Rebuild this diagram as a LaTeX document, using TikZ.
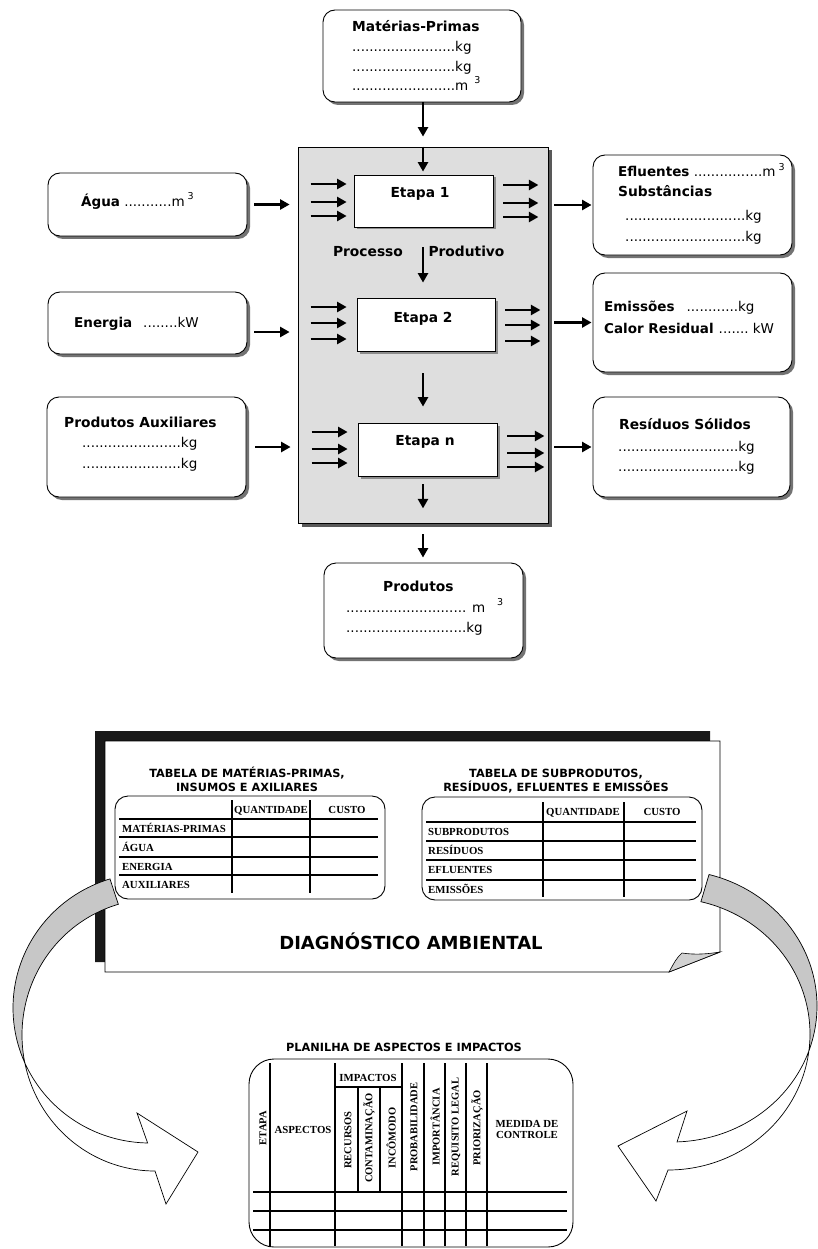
\documentclass[tikz,border=0pt]{standalone}
\usepackage{fontspec}
\setmainfont{DejaVu Sans}
\newfontfamily\tnr{Liberation Serif}
\usetikzlibrary{arrows.meta,shadows,calc}
\newcount\dotcnt
\newcommand\dotrun[1]{\dotcnt=0 \loop\ifnum\dotcnt<#1 .\advance\dotcnt by 1 \repeat}
\newcommand\cubo[1]{\hspace{#1}\raisebox{6.5pt}{\fontsize{9.5}{10}\selectfont 3}}
\tikzset{
  arr/.style={line width=2.7pt,-{Triangle[length=9.5pt,width=10pt]}},
  rbox/.style={draw,line width=0.9pt,fill=white,rounded corners=12pt,inner sep=0pt,
    drop shadow={shadow xshift=3pt,shadow yshift=-3pt,fill=black!55,opacity=1}},
  ebox/.style={draw,line width=0.8pt,fill=white,inner sep=0pt,
    drop shadow={shadow xshift=2.5pt,shadow yshift=-2.5pt,fill=black!45,opacity=1}},
  txt/.style={inner sep=0pt,anchor=base west,font=\fontsize{13.5}{16}\selectfont},
  btxt/.style={inner sep=0pt,anchor=base west,font=\fontsize{13.8}{16}\selectfont\bfseries},
  ctxt/.style={inner sep=0pt,anchor=base,font=\fontsize{13.8}{16}\selectfont\bfseries},
  tbox/.style={draw,line width=0.9pt,rounded corners=13pt,inner sep=0pt},
  tl/.style={line width=2.3pt},
  tt/.style={inner sep=0pt,anchor=base west,font=\tnr\fontsize{10.8}{12}\selectfont\bfseries},
  tth/.style={inner sep=0pt,anchor=base,font=\tnr\fontsize{10.8}{12}\selectfont\bfseries},
  ttr/.style={inner sep=0pt,anchor=center,rotate=90,font=\tnr\fontsize{10.5}{12}\selectfont\bfseries},
  ttitle/.style={inner sep=0pt,anchor=base,font=\fontsize{11.3}{13}\selectfont\bfseries},
  band/.style={draw,line width=0.7pt},
}
\begin{document}
\begin{tikzpicture}[x=1pt,y=-1pt]
\fill[white] (0,0) rectangle (818,1249);
\useasboundingbox (0,0) rectangle (818,1249);
\coordinate (axis) at (423,0);

% ---------- process box ----------
\node[draw,line width=0.8pt,fill=black!13,inner sep=0pt,minimum width=250pt,minimum height=376pt,
  drop shadow={shadow xshift=3.5pt,shadow yshift=-3.5pt,fill=black!65,opacity=1}] (proc) at (423,335) {};

% ---------- outer boxes ----------
\node[rbox,minimum width=198pt,minimum height=92pt] (mp) at (422,56) {};
\node[rbox,minimum width=199pt,minimum height=63pt] (agua) at (147.5,204.5) {};
\node[rbox,minimum width=199pt,minimum height=62pt] (energia) at (147.5,323) {};
\node[rbox,minimum width=199pt,minimum height=100pt] (aux) at (146.5,447) {};
\node[rbox,minimum width=199pt,minimum height=100pt] (eflu) at (692.5,205) {};
\node[rbox,minimum width=199pt,minimum height=99pt] (emis) at (692.5,322.5) {};
\node[rbox,minimum width=197pt,minimum height=100pt] (resid) at (691.5,447) {};
\node[rbox,minimum width=199pt,minimum height=95pt] (prod) at (423.5,610.5) {};

% ---------- stage boxes ----------
\node[ebox,minimum width=139pt,minimum height=52pt] (e1) at (423.5,201) {};
\node[ebox,minimum width=138pt,minimum height=53pt] (e2) at (426,324.5) {};
\node[ebox,minimum width=139pt,minimum height=53pt] (en) at (427.5,449.5) {};

% ---------- texts ----------
\node[btxt] (mpT) at (352,32) {Matérias-Primas};
\node[txt] (mpA) at (352,52) {\dotrun{24}kg};
\node[txt] (mpB) at (352,71.5) {\dotrun{24}kg};
\node[txt] (mpC) at (352,90.5) {\dotrun{24}m\cubo{6pt}};
\node[txt] (aguaT) at (81,206.5) {\textbf{Água} \dotrun{11}m\cubo{3pt}};
\node[txt] (energT) at (74,327) {\textbf{Energia}\hspace{11pt}\dotrun{8}kW};
\node[btxt] (auxT) at (64,427) {Produtos Auxiliares};
\node[txt] (auxA) at (82,447) {\dotrun{23}kg};
\node[txt] (auxB) at (82,468.5) {\dotrun{23}kg};
\node[txt] (efT) at (618,176.7) {\textbf{Efluentes} \dotrun{16}m\cubo{3pt}};
\node[btxt] (subT) at (618,196.7) {Substâncias};
\node[txt] (subA) at (625,221) {\dotrun{28}kg};
\node[txt] (subB) at (625,241) {\dotrun{28}kg};
\node[txt] (emT) at (604,311.7) {\textbf{Emissões}\hspace{12pt}\dotrun{12}kg};
\node[txt] (caT) at (604,333.3) {\textbf{Calor Residual}\hspace{5pt}\dotrun{7}\hspace{4pt}kW};
\node[btxt] (reT) at (619,429.3) {Resíduos Sólidos};
\node[txt] (reA) at (618,451) {\dotrun{28}kg};
\node[txt] (reB) at (618,471) {\dotrun{28}kg};
\node[btxt] (prT) at (383,591.7) {Produtos};
\node[txt] (prA) at (346,612.3) {\dotrun{28} m\cubo{12pt}};
\node[txt] (prB) at (346,632.7) {\dotrun{28}kg};

\node[ctxt] (e1T) at (420,198) {Etapa 1};
\node[ctxt] (e2T) at (423,322) {Etapa 2};
\node[ctxt] (enTT) at (425,445) {Etapa n};
\node[ctxt] (procT) at (368,256) {Processo};
\node[ctxt] (prodT) at (466.5,256) {Produtivo};

% ---------- connectors ----------
\draw[arr,shorten >=10pt] (axis |- mp.south) -- (axis |- proc.north);
\draw[arr,shorten >=3pt] (axis |- proc.north) -- (axis |- e1.north);
\draw[arr,shorten <=20pt,shorten >=15pt] (axis |- e1.south) -- (axis |- e2.north);
\draw[arr,shorten <=22pt,shorten >=16pt] (axis |- e2.south) -- (axis |- en.north);
\draw[arr,shorten <=8pt,shorten >=15pt] (axis |- en.south) -- (axis |- proc.south);
\draw[arr,shorten <=11pt,shorten >=5pt] (axis |- proc.south) -- (axis |- prod.north);

\coordinate (enA) at ($(energia.east)+(0,9)$);
\draw[arr,shorten <=7pt,shorten >=8pt] (agua.east) -- (agua.east -| proc.west);
\draw[arr,shorten <=7pt,shorten >=8pt] (enA) -- (enA -| proc.west);
\draw[arr,shorten <=9pt,shorten >=7pt] (aux.east) -- (aux.east -| proc.west);
\draw[arr,shorten <=6pt,shorten >=1pt] (proc.east |- eflu.west) -- (eflu.west);
\draw[arr,shorten <=6pt,shorten >=1pt] (proc.east |- emis.west) -- (emis.west);
\draw[arr,shorten <=6pt,shorten >=1pt] (proc.east |- resid.west) -- (resid.west);

\foreach \dy in {-17,1,15} \draw[arr] ([shift={(-43,\dy)}]e1.west) -- ++(36,0);
\foreach \dy in {-16,2,16} \draw[arr] ([shift={(10,\dy)}]e1.east) -- ++(35,0);
\foreach \dy in {-17.5,-1.5,14.5} \draw[arr] ([shift={(-46,\dy)}]e2.west) -- ++(36,0);
\foreach \dy in {-14.5,0.5,16.5} \draw[arr] ([shift={(10,\dy)}]e2.east) -- ++(35,0);
\foreach \dy in {-17.5,-0.5,13.5} \draw[arr] ([shift={(-46,\dy)}]en.west) -- ++(36,0);
\foreach \dy in {-13.5,3.5,17.5} \draw[arr] ([shift={(10,\dy)}]en.east) -- ++(37,0);

% ---------- diagnostic page ----------
\fill[black!90] (95,731) -- (710,731) -- (710,741) -- (105,741) -- (105,962) -- (95,962) -- cycle;
\draw[fill=white,line width=0.8pt] (105,741) -- (720,741) -- (720,952) -- (669,972) -- (105,972) -- cycle;
\draw[fill=black!18,line width=0.6pt] (669,972) .. controls (674,963) and (677,957) .. (682,953)
  .. controls (695,955) and (708,954) .. (720,952) -- cycle;

\node[ttitle] (t1a) at (247,777) {TABELA DE MATÉRIAS-PRIMAS,};
\node[ttitle] (t1b) at (247,791) {INSUMOS E AXILIARES};
\node[ttitle] (t2a) at (556,777) {TABELA DE SUBPRODUTOS,};
\node[ttitle] (t2b) at (556,791) {RESÍDUOS, EFLUENTES E EMISSÕES};

\node[tbox,minimum width=270pt,minimum height=103pt] (tab1) at (250,847.5) {};
\draw[tl] (232,800) -- (232,893) (310,800) -- (310,893);
\foreach \yy in {819,837,857,875} \draw[tl] (119,\yy) -- (378,\yy);
\node[tth] (q1) at (271,813.5) {QUANTIDADE};
\node[tth] (c1) at (347,813.5) {CUSTO};
\node[tt] (r11) at (122,832.5) {MATÉRIAS-PRIMAS};
\node[tt] (r12) at (122,851.5) {ÁGUA};
\node[tt] (r13) at (122,870.5) {ENERGIA};
\node[tt] (r14) at (122,888.5) {AUXILIARES};

\node[tbox,minimum width=280pt,minimum height=103pt] (tab2) at (562,848.5) {};
\draw[tl] (543,802) -- (543,897) (624,802) -- (624,897);
\foreach \yy in {822,841,860,880} \draw[tl] (426,\yy) -- (696,\yy);
\node[tth] (q2) at (583,815.5) {QUANTIDADE};
\node[tth] (c2) at (662,815.5) {CUSTO};
\node[tt] (r21) at (428,835.5) {SUBPRODUTOS};
\node[tt] (r22) at (428,854.5) {RESÍDUOS};
\node[tt] (r23) at (428,873.5) {EFLUENTES};
\node[tt] (r24) at (428,893) {EMISSÕES};

\node[inner sep=0pt,anchor=base,font=\fontsize{18}{20}\selectfont\bfseries] (diag) at (411,949.5) {DIAGNÓSTICO AMBIENTAL};

% ---------- planilha ----------
\node[ttitle] (planT) at (404,1051) {PLANILHA DE ASPECTOS E IMPACTOS};
\node[tbox,rounded corners=25pt,minimum width=324pt,minimum height=188pt] (plan) at (411,1153) {};
\foreach \xx in {270,335,402,424,445,466,487} \draw[tl] (\xx,1063) -- (\xx,1246);
\draw[tl] (358,1087) -- (358,1192) (380,1087) -- (380,1192);
\draw[tl] (335,1087) -- (402,1087);
\foreach \yy in {1192,1211,1230} \draw[tl] (253,\yy) -- (567,\yy);
\node[tth] (imp) at (368,1081) {IMPACTOS};
\node[tth] (asp) at (303,1133) {ASPECTOS};
\node[tth] (med1) at (527,1127) {MEDIDA DE};
\node[tth] (med2) at (527,1138.5) {CONTROLE};
\node[ttr] (r1) at (263,1128) {ETAPA};
\node[ttr] (r2) at (348,1140) {RECURSOS};
\node[ttr] (r3) at (369,1138) {CONTAMINAÇÃO};
\node[ttr] (r4) at (391,1138) {INCÔMODO};
\node[ttr] (r5) at (414,1127) {PROBABILIDADE};
\node[ttr] (r6) at (435,1127) {IMPORTÂNCIA};
\node[ttr] (r7) at (456,1127) {REQUISITO LEGAL};
\node[ttr] (r8) at (477,1128) {PRIORIZAÇÃO};

% ---------- curved arrows ----------
\draw[band,fill=black!22] plot[domain=253:156,samples=60,variable=\t] ({150+137*cos(\t)},{1008+135*sin(\t)})
  -- plot[domain=168:254,samples=60,variable=\t] ({155+133*cos(\t)},{1035+136*sin(\t)}) -- cycle;
\draw[band,fill=white] plot[domain=156:91,samples=60,variable=\t] ({150+137*cos(\t)},{1008+135*sin(\t)})
  -- (137,1113) -- (198,1152) -- (166,1204)
  -- plot[domain=90:168,samples=60,variable=\t] ({155+133*cos(\t)},{1035+136*sin(\t)}) -- cycle;

\draw[band,fill=black!22] plot[domain=-75.2:18.9,samples=60,variable=\t] ({672+145*cos(\t)},{1006+136*sin(\t)})
  -- plot[domain=6.8:-76.6,samples=60,variable=\t] ({668+142*cos(\t)},{1034+136*sin(\t)}) -- cycle;
\draw[band,fill=white] plot[domain=18.9:88,samples=60,variable=\t] ({672+145*cos(\t)},{1006+136*sin(\t)})
  -- (687,1111) -- (618,1146) -- (656,1201)
  -- plot[domain=90:6.8,samples=60,variable=\t] ({668+142*cos(\t)},{1034+136*sin(\t)}) -- cycle;
\end{tikzpicture}
\end{document}
